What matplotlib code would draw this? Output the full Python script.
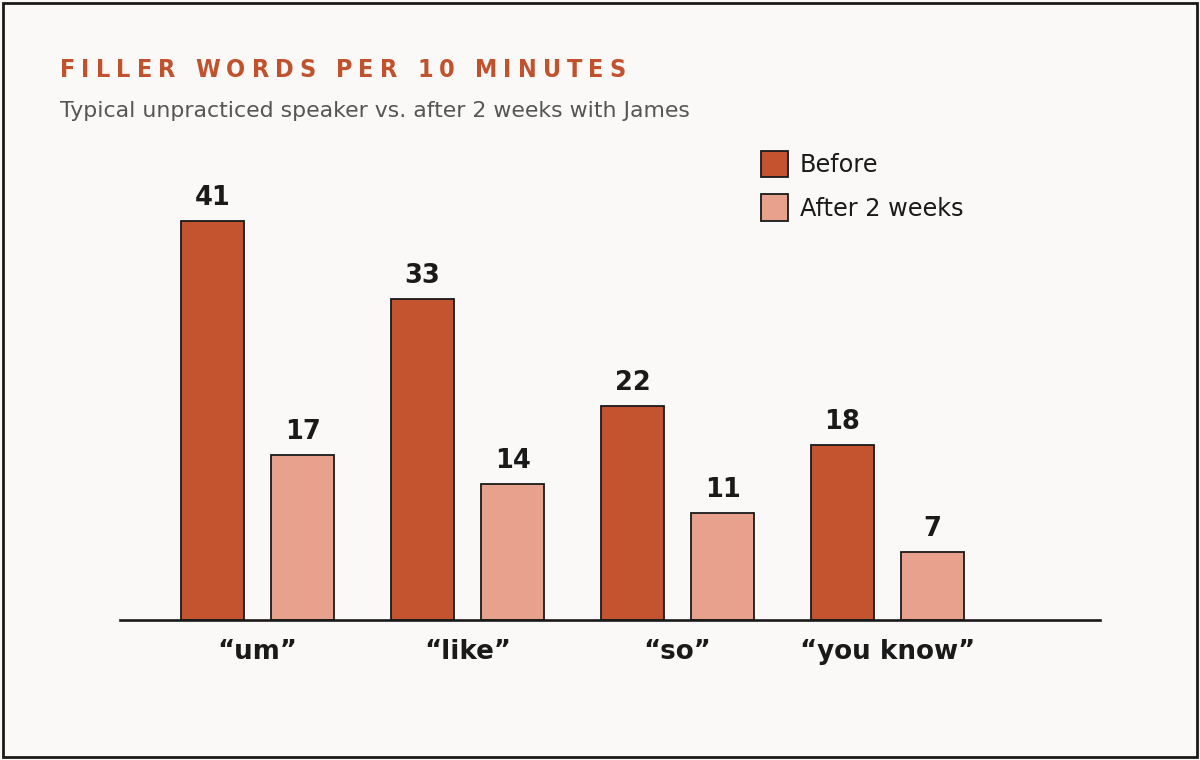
import matplotlib
matplotlib.use("Agg")
import matplotlib.pyplot as plt
from matplotlib.patches import Rectangle
from matplotlib import font_manager
import numpy as np

categories = ["\u201cum\u201d", "\u201clike\u201d", "\u201cso\u201d", "\u201cyou know\u201d"]
before = [41, 33, 22, 18]
after = [17, 14, 11, 7]
series_names = ["Before", "After 2 weeks"]
title = "FILLER WORDS PER 10 MINUTES"
subtitle = "Typical unpracticed speaker vs. after 2 weeks with James"

W, H = 1200, 760
BG = "#faf9f7"
DARK = "#1a1a1a"
C_BEFORE = "#c4532f"
C_AFTER = "#e8a18d"
C_TITLE = "#c0522e"

fig = plt.figure(figsize=(W / 100, H / 100), dpi=100, facecolor=BG)
ax = fig.add_axes([120 / W, 140 / H, 980 / W, 438 / H])
ax.set_facecolor(BG)

x = np.arange(len(categories))
off = 45 / 210
bw = 63 / 210
b1 = ax.bar(x - off, before, bw, color=C_BEFORE, edgecolor=DARK, linewidth=1.3, label=series_names[0], zorder=2)
b2 = ax.bar(x + off, after, bw, color=C_AFTER, edgecolor=DARK, linewidth=1.3, label=series_names[1], zorder=2)

for bars, vals in ((b1, before), (b2, after)):
    for rect, v in zip(bars, vals):
        ax.annotate(str(v), (rect.get_x() + rect.get_width() / 2, v), xytext=(0, 7),
                    textcoords="offset points", ha="center", va="bottom",
                    fontsize=18.5, fontweight="bold", color=DARK)

ax.set_xlim(-0.655, -0.655 + 980 / 210)
ax.set_ylim(0, 45)
ax.set_xticks(x)
ax.set_xticklabels(categories, fontsize=18.8, fontweight="bold", color=DARK)
ax.tick_params(axis="x", length=0, pad=14)
ax.set_yticks([])
for s in ("top", "right", "left"):
    ax.spines[s].set_visible(False)
ax.spines["bottom"].set_color(DARK)
ax.spines["bottom"].set_linewidth(1.9)

fs_leg = 17.3
px = fs_leg * 100 / 72
leg = ax.legend(loc="upper left", bbox_to_anchor=(761 / W, 1 - 151 / H),
                bbox_transform=fig.transFigure, frameon=False, fontsize=fs_leg,
                handlelength=27 / px, handleheight=27 / (0.852 * px), handletextpad=12 / px,
                labelspacing=(44 - 27) / px, borderpad=0, borderaxespad=0)
for t in leg.get_texts():
    t.set_color(DARK)

# letter-spaced title
fig.canvas.draw()
renderer = fig.canvas.get_renderer()
tfs = 18
tprops = dict(fontsize=tfs, fontweight="bold", fontstretch="condensed")
def wpx(s):
    t = fig.text(0, 0, s, **tprops)
    w = t.get_window_extent(renderer).width
    t.remove()
    return w
n = len(title)
positions = []
for i, ch in enumerate(title):
    if ch == " ":
        positions.append(None)
        continue
    positions.append(wpx(title[:i + 1]) - wpx(ch))
natural_end = wpx(title)
spacing = (626 - 60 - natural_end) / (n - 1)
for i, ch in enumerate(title):
    if positions[i] is None:
        continue
    xp = 60 + positions[i] + i * spacing
    fig.text(xp / W, 1 - 77 / H, ch, color=C_TITLE, ha="left", va="baseline", **tprops)

fig.text(60 / W, 1 - 117 / H, subtitle, fontsize=15.85, color="#555555", ha="left", va="baseline")

fig.patches.append(Rectangle((3 / W, 3 / H), 1 - 6 / W, 1 - 6 / H, transform=fig.transFigure,
                             fill=False, edgecolor=DARK, linewidth=2, zorder=10))

fig.savefig("out.png", dpi=100, facecolor=BG)
